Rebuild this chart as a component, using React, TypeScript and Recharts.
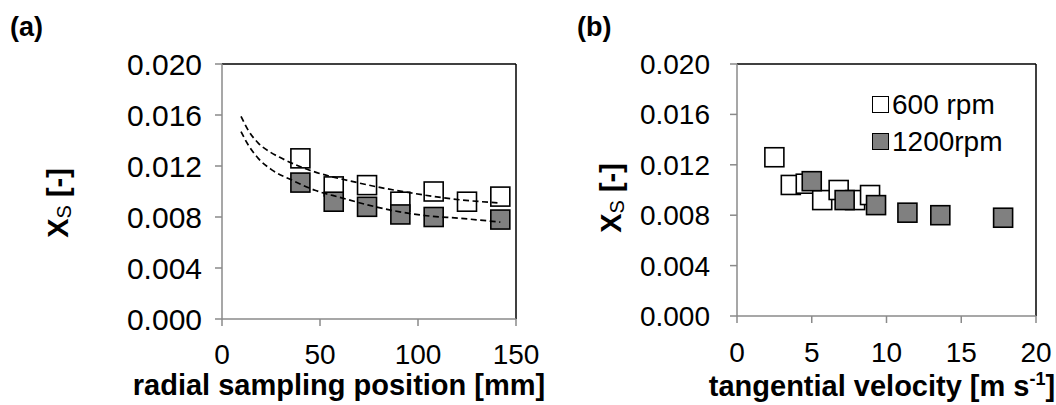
import React from 'react';
import { ScatterChart, Scatter, XAxis, YAxis, ReferenceLine } from 'recharts';

// measured points, panel (a): radial position [mm] vs Xs
const radial600 = [40, 57, 74, 91, 108, 125, 142];
const radial1200 = [40, 57, 74, 91, 108, 142];
const xs600 = [0.0126, 0.0104, 0.0105, 0.0092, 0.0100, 0.0092, 0.0096];
const xs1200 = [0.0107, 0.0092, 0.0088, 0.0082, 0.0080, 0.0078];

// panel (b): tangential velocity [m/s]
const vel600 = [2.5, 3.6, 4.6, 5.7, 6.8, 7.9, 8.9];
const vel1200 = [5.0, 7.2, 9.3, 11.4, 13.6, 17.8];

// dashed trend lines
const fitX600 = [9.7, 13.4, 18.5, 24.5, 30.5, 40.7, 70.4, 95.9, 121.4, 142];
const fitY600 = [0.0159, 0.0148, 0.0138, 0.0131, 0.0126, 0.0119, 0.01065, 0.0099, 0.00935, 0.0091];
const fitX1200 = [9.7, 13.4, 18.5, 25.4, 35.6, 47.4, 61.1, 73.0, 87.4, 104.4, 121.4, 142];
const fitY1200 = [0.0147, 0.01365, 0.0126, 0.0117, 0.0109, 0.0101, 0.0095, 0.0090, 0.0085, 0.0081, 0.0079, 0.0076];

const xTicksA = [0, 50, 100, 150];
const xTicksB = [0, 5, 10, 15, 20];
const yTicks = [0, 0.004, 0.008, 0.012, 0.016, 0.02];

const FONT = '"Liberation Sans", Arial, sans-serif';
const AXIS_GRAY = '#8a8a8a';
const MARKER_GRAY = '#808080';

const pairs = (xs: number[], ys: number[]) => xs.map((x, i) => ({ x, y: ys[i] }));

const square = (fill: string, size: number) => (props: any) => {
  const { cx, cy } = props;
  if (cx == null || cy == null) return <g />;
  return (
    <rect x={cx - size / 2} y={cy - size / 2} width={size} height={size}
      fill={fill} stroke="#000" strokeWidth={1.6} />
  );
};

const noShape = () => <g />;

const YTitle = ({ cx, cy }: { cx: number; cy: number }) => (
  <text x={cx} y={cy} transform={`rotate(-90 ${cx} ${cy})`} textAnchor="middle"
    dominantBaseline="central" fontFamily={FONT} fontSize={29} fontWeight="bold" fill="#000">
    X<tspan fontSize={20} fontWeight="normal" dy={6}>S</tspan>
    <tspan dy={-6}> [-]</tspan>
  </text>
);

const dashLine = { stroke: '#000', strokeWidth: 1.7, strokeDasharray: '6 3.5', fill: 'none' };

export default function App() {
  const dataA600 = pairs(radial600, xs600);
  const dataA1200 = pairs(radial1200, xs1200);
  const dataB600 = pairs(vel600, xs600);
  const dataB1200 = pairs(vel1200, xs1200);
  const fit600 = pairs(fitX600, fitY600);
  const fit1200 = pairs(fitX1200, fitY1200);

  const yAxisCommon = {
    type: 'number' as const,
    dataKey: 'y',
    domain: [0, 0.02],
    ticks: yTicks,
    tickFormatter: (v: number) => v.toFixed(3),
    stroke: AXIS_GRAY,
    strokeWidth: 1.5,
    tickSize: 7,
    interval: 0 as const,
  };

  return (
    <div style={{ position: 'absolute', left: 0, top: 0, width: 1056, height: 405, background: '#fff', fontFamily: FONT }}>
      <div style={{ position: 'absolute', left: 0, top: 0 }}>
        <ScatterChart width={560} height={405} margin={{ top: 64, right: 44, bottom: 0, left: 0 }}>
          <XAxis type="number" dataKey="x" domain={[0, 150]} ticks={xTicksA} interval={0}
            stroke={AXIS_GRAY} strokeWidth={1.5} tickSize={7} tickMargin={18} height={86}
            tick={{ fill: '#000', fontSize: 28, fontFamily: FONT }}
            label={(p: any) => {
              const vb = p.viewBox;
              return (
                <text x={vb.x + vb.width / 2 - 30} y={395} textAnchor="middle" fontFamily={FONT}
                  fontSize={29} fontWeight="bold" fill="#000">radial sampling position [mm]</text>
              );
            }} />
          <YAxis {...yAxisCommon} width={222} tickMargin={13}
            tick={{ fill: '#000', fontSize: 30, fontFamily: FONT }}
            label={() => <YTitle cx={58} cy={203} />} />
          <ReferenceLine y={0.02} stroke="#000" strokeWidth={1.5} />
          <ReferenceLine x={150} stroke="#000" strokeWidth={1.5} />
          <Scatter data={dataA600} shape={square('#fff', 19)} isAnimationActive={false} />
          <Scatter data={dataA1200} shape={square(MARKER_GRAY, 19)} isAnimationActive={false} />
          <Scatter data={fit600} shape={noShape} line={dashLine} lineJointType="monotoneX" isAnimationActive={false} />
          <Scatter data={fit1200} shape={noShape} line={dashLine} lineJointType="monotoneX" isAnimationActive={false} />
        </ScatterChart>
      </div>

      <div style={{ position: 'absolute', left: 540, top: 0 }}>
        <ScatterChart width={516} height={405} margin={{ top: 64, right: 20, bottom: 0, left: 0 }}>
          <XAxis type="number" dataKey="x" domain={[0, 20]} ticks={xTicksB} interval={0}
            stroke={AXIS_GRAY} strokeWidth={1.5} tickSize={7} tickMargin={19} height={89}
            tick={{ fill: '#000', fontSize: 28, fontFamily: FONT }}
            label={() => (
              <text x={342} y={396} textAnchor="middle" fontFamily={FONT}
                fontSize={29} fontWeight="bold" fill="#000">
                tangential velocity [m s<tspan fontSize={18} dy={-11}>-1</tspan><tspan dy={11}>]</tspan>
              </text>
            )} />
          <YAxis {...yAxisCommon} width={197} tickMargin={20}
            tick={{ fill: '#000', fontSize: 28, fontFamily: FONT }}
            label={() => <YTitle cx={71} cy={198} />} />
          <ReferenceLine y={0.02} stroke="#000" strokeWidth={1.5} />
          <ReferenceLine x={20} stroke="#000" strokeWidth={1.5} />
          <Scatter data={dataB600} shape={square('#fff', 19)} isAnimationActive={false} />
          <Scatter data={dataB1200} shape={square(MARKER_GRAY, 19)} isAnimationActive={false} />
        </ScatterChart>
      </div>

      <div style={{ position: 'absolute', left: 10, top: 12, fontSize: 27, fontWeight: 'bold' }}>(a)</div>
      <div style={{ position: 'absolute', left: 577, top: 12, fontSize: 27, fontWeight: 'bold' }}>(b)</div>

      <div style={{ position: 'absolute', left: 872, top: 86, fontSize: 28, lineHeight: '37px' }}>
        <div style={{ display: 'flex', alignItems: 'center' }}>
          <span style={{ width: 15, height: 15, border: '1.5px solid #000', background: '#fff', marginRight: 3 }} />
          <span>600 rpm</span>
        </div>
        <div style={{ display: 'flex', alignItems: 'center' }}>
          <span style={{ width: 15, height: 15, border: '1.5px solid #000', background: MARKER_GRAY, marginRight: 3 }} />
          <span>1200rpm</span>
        </div>
      </div>
    </div>
  );
}
